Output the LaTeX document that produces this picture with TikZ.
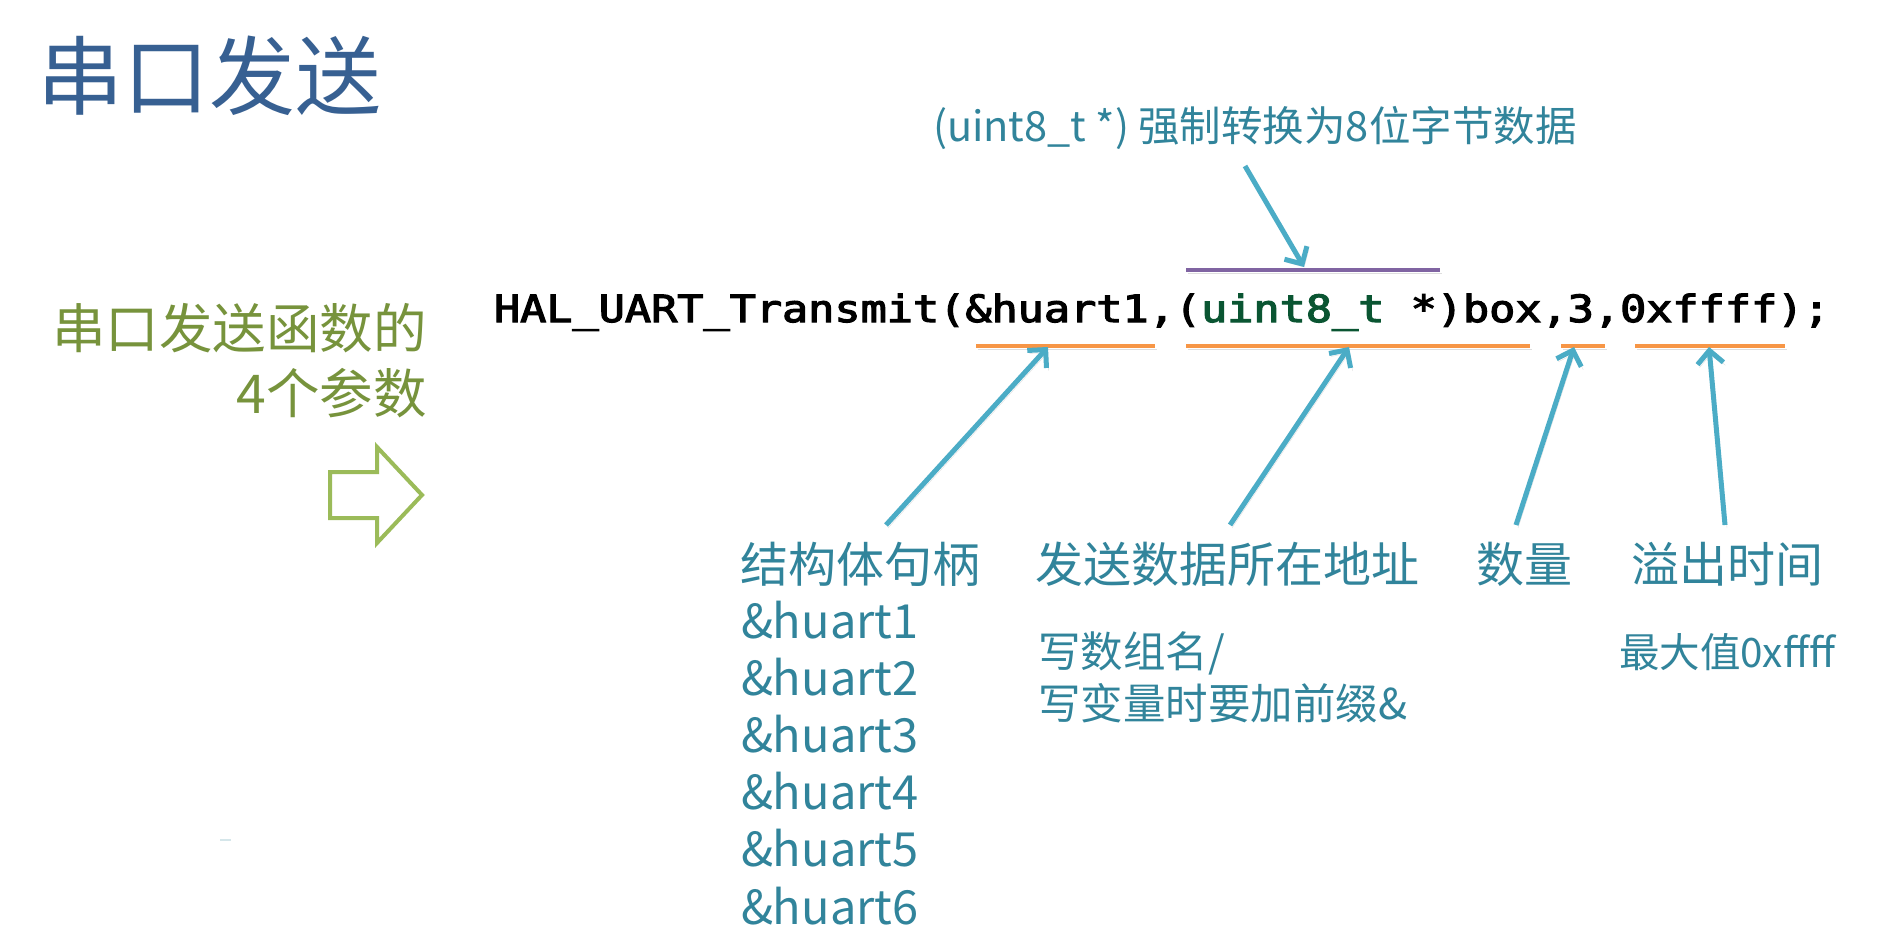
\documentclass[tikz,border=0pt]{standalone}
\usepackage{fontspec}
\setmainfont{Noto Sans CJK SC}
\newfontfamily\codefont[FakeBold=3]{DejaVu Sans Mono}
\usetikzlibrary{arrows.meta}
\definecolor{titleblue}{RGB}{55,96,146}
\definecolor{olivetxt}{RGB}{119,147,60}
\definecolor{arrowgreen}{RGB}{155,187,89}
\definecolor{tealtxt}{RGB}{49,132,155}
\definecolor{arrowblue}{RGB}{75,172,198}
\definecolor{markorange}{RGB}{247,150,70}
\definecolor{markpurple}{RGB}{128,100,162}
\definecolor{codegreen}{RGB}{10,85,50}
\newcommand{\fs}[1]{\fontsize{#1}{#1}\selectfont}
\tikzset{
  txt/.style={inner sep=0pt, outer sep=0pt, anchor=base west},
  label48/.style={txt, text=tealtxt, font=\fs{48}},
  huart/.style={txt, text=tealtxt, font=\fs{47}},
  note40/.style={txt, text=tealtxt, font=\fs{42.5}},
  shadowed/.style={preaction={draw=black, draw opacity=0.13, transform canvas={shift={(2pt,-3pt)}}}},
  markline/.style={line width=4.5pt, shadowed},
  callout/.style={draw=arrowblue, line width=5pt, shadowed,
    -{Straight Barb[length=13pt, width=26pt, line width=5pt]}},
}
\begin{document}
\begin{tikzpicture}[x=1pt, y=-1pt]
\useasboundingbox (0,0) rectangle (1890,944);
\fill[white] (0,0) rectangle (1890,944);

% title
\node[txt, text=titleblue, font=\fs{86}] (title) at (37,109) {串口发送};

% left green text
\node[inner sep=0pt, anchor=base east, text=olivetxt, font=\fs{53.5}] (lt1) at (427,348) {串口发送函数的};
\node[inner sep=0pt, anchor=base east, text=olivetxt, font=\fs{53.5}] (lt2) at (427,413) {4个参数};

% hollow block arrow
\draw[arrowgreen, line width=4pt, line join=miter]
  (330,472) -- (377,472) -- (377,447) -- (422,495) -- (377,543) -- (377,518) -- (330,518) -- cycle;

% faint mark
\draw[tealtxt!40, line width=1.2pt, opacity=0.5] (220,840) -- (231,840);

% code line
\node[txt] (code) at (494,322) {\scalebox{1}[0.86]{\codefont\fs{43.5}HAL\_UART\_Transmit(\&huart1,(\textcolor{codegreen}{uint8\_t} *)box,3,0xffff);}};

% top note
\node[txt, text=tealtxt, font=\fs{41.5}] (topnote) at (933,142) {(uint8\_t *) 强制转换为8位字节数据};

% underline coordinates
\coordinate (p1) at (1186,270); \coordinate (p2) at (1440,270); \coordinate (ptip) at (1304,267);
\coordinate (o1a) at (976,346);  \coordinate (o1b) at (1155,346); \coordinate (o1t) at (1048,347);
\coordinate (o2a) at (1186,346); \coordinate (o2b) at (1530,346); \coordinate (o2t) at (1349,347);
\coordinate (o3a) at (1561,346); \coordinate (o3b) at (1605,346); \coordinate (o3t) at (1574,347);
\coordinate (o4a) at (1635,346); \coordinate (o4b) at (1785,346); \coordinate (o4t) at (1709,347);

\draw[markline, markpurple] (p1) -- (p2);
\draw[markline, markorange] (o1a) -- (o1b);
\draw[markline, markorange] (o2a) -- (o2b);
\draw[markline, markorange] (o3a) -- (o3b);
\draw[markline, markorange] (o4a) -- (o4b);

% labels
\node[label48] (l1) at (740,582) {结构体句柄};
\node[label48] (l2) at (1035,582) {发送数据所在地址};
\node[label48] (l3) at (1476,582) {数量};
\node[label48] (l4) at (1631,582) {溢出时间};

\node[huart] (h1) at (741,638) {\&huart1};
\node[huart] (h2) at (741,695.2) {\&huart2};
\node[huart] (h3) at (741,752.4) {\&huart3};
\node[huart] (h4) at (741,809.6) {\&huart4};
\node[huart] (h5) at (741,866.8) {\&huart5};
\node[huart] (h6) at (741,924) {\&huart6};

\node[note40] (n1) at (1038,667) {写数组名/};
\node[note40] (n2) at (1038,719) {写变量时要加前缀\&};
\node[txt, text=tealtxt, font=\fs{40.5}] (n3) at (1619,667) {最大值0xffff};

% arrow tails
\coordinate (t0) at (1245,166);
\coordinate (t1) at (886,525);
\coordinate (t2) at (1230,525);
\coordinate (t3) at (1516,525);
\coordinate (t4) at (1725,525);

\draw[callout] (t0) -- (ptip);
\draw[callout] (t1) -- (o1t);
\draw[callout] (t2) -- (o2t);
\draw[callout] (t3) -- (o3t);
\draw[callout] (t4) -- (o4t);
\end{tikzpicture}
\end{document}
